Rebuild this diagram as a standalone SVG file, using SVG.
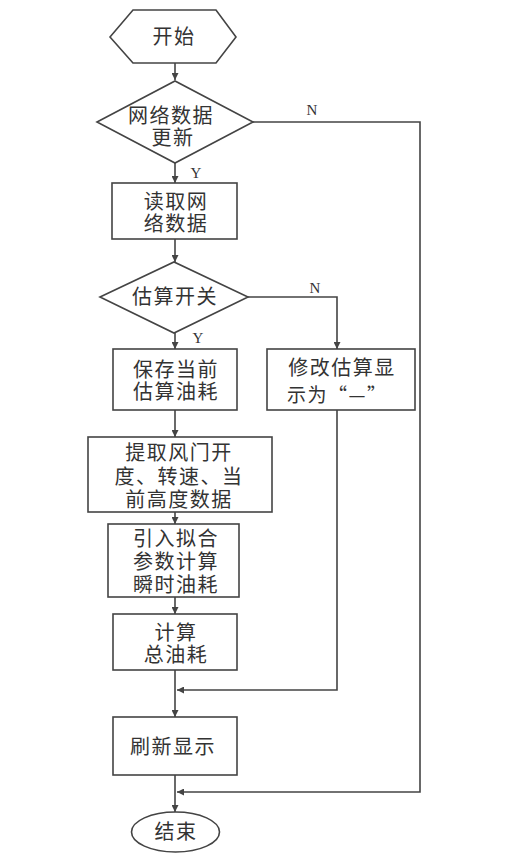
<svg xmlns="http://www.w3.org/2000/svg" width="530" height="866" viewBox="0 0 530 866">
<style>
.s{fill:#fff;stroke:#444;stroke-width:1.6}
.t{font-family:"Liberation Serif","Noto Sans CJK SC",serif;font-size:20px;letter-spacing:1.5px;fill:#333;text-anchor:middle;dominant-baseline:central}
.q{font-family:"Noto Sans CJK SC",sans-serif;font-size:19px}
.l{font-family:"Liberation Serif","Noto Sans CJK SC",serif;font-size:15px;fill:#333;text-anchor:middle;dominant-baseline:central}
.c{fill:none;stroke:#444;stroke-width:1.6}
</style>
<defs>
<marker id="a" viewBox="0 0 10 10" refX="10" refY="5" markerWidth="7" markerHeight="7" markerUnits="userSpaceOnUse" orient="auto">
<path d="M0,0L10,5L0,10z" fill="#444"/>
</marker>
</defs>
<rect width="530" height="866" fill="#fff"/>
<g id="connectors">
<path class="c" d="M175,63V80" marker-end="url(#a)"/>
<path class="c" d="M175,163V183" marker-end="url(#a)"/>
<path class="c" d="M253,122H420V792H177" marker-end="url(#a)"/>
<path class="c" d="M175,239V262" marker-end="url(#a)"/>
<path class="c" d="M175,333V349" marker-end="url(#a)"/>
<path class="c" d="M248,297H337V349" marker-end="url(#a)"/>
<path class="c" d="M175,410V437" marker-end="url(#a)"/>
<path class="c" d="M175,512V524" marker-end="url(#a)"/>
<path class="c" d="M175,597V614" marker-end="url(#a)"/>
<path class="c" d="M175,670V717" marker-end="url(#a)"/>
<path class="c" d="M337,410V690H177" marker-end="url(#a)"/>
<path class="c" d="M175,775V812" marker-end="url(#a)"/>
<text class="l" x="312" y="110">N</text>
<text class="l" x="196" y="173">Y</text>
<text class="l" x="315" y="288">N</text>
<text class="l" x="198" y="338">Y</text>
</g>
<g id="start">
<polygon class="s" points="110,37 133,10 216,10 236,37 216,63 133,63"/>
<text class="t" x="174" y="37">开始</text>
</g>
<g id="d1">
<polygon class="s" points="97,122 175,81 253,122 175,163"/>
<text class="t" x="171" y="116">网络数据</text>
<text class="t" x="173" y="138">更新</text>
</g>
<g id="read">
<rect class="s" x="112" y="183" width="125" height="56"/>
<text class="t" x="176" y="202">读取网</text>
<text class="t" x="176" y="224">络数据</text>
</g>
<g id="d2">
<polygon class="s" points="100,297 174,262 248,297 174,333"/>
<text class="t" x="175" y="297">估算开关</text>
</g>
<g id="save">
<rect class="s" x="113" y="349" width="124" height="61"/>
<text class="t" x="176" y="370">保存当前</text>
<text class="t" x="176" y="392">估算油耗</text>
</g>
<g id="modify">
<rect class="s" x="267" y="349" width="148" height="61"/>
<text class="t" x="342" y="368">修改估算显</text>
<text class="t q" x="287" y="393" style="text-anchor:start">示为“—”</text>
</g>
<g id="extract">
<rect class="s" x="88" y="437" width="184" height="75"/>
<text class="t" x="179" y="453">提取风门开</text>
<text class="t" x="179" y="477">度、转速、当</text>
<text class="t" x="179" y="500">前高度数据</text>
</g>
<g id="fit">
<rect class="s" x="108" y="524" width="131" height="73"/>
<text class="t" x="176" y="539">引入拟合</text>
<text class="t" x="176" y="562">参数计算</text>
<text class="t" x="176" y="585">瞬时油耗</text>
</g>
<g id="total">
<rect class="s" x="113" y="614" width="124" height="56"/>
<text class="t" x="176" y="633">计算</text>
<text class="t" x="176" y="655">总油耗</text>
</g>
<g id="refresh">
<rect class="s" x="113" y="717" width="124" height="58"/>
<text class="t" x="173" y="747">刷新显示</text>
</g>
<g id="end">
<ellipse class="s" cx="175.5" cy="832" rx="44" ry="20"/>
<text class="t" x="176" y="832">结束</text>
</g>
</svg>
